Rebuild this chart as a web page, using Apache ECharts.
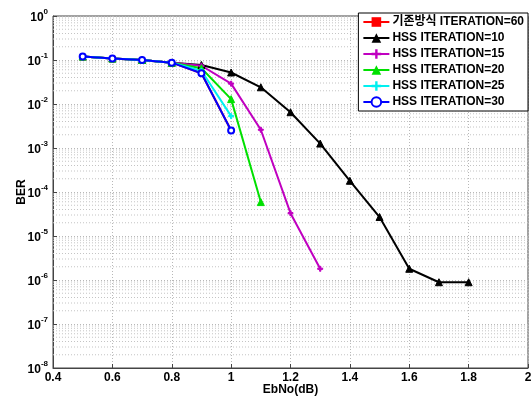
<!DOCTYPE html>
<html>
<head>
<meta charset="utf-8">
<script src="https://cdn.jsdelivr.net/npm/echarts@6/dist/echarts.min.js"></script>
<style>
  html, body { margin: 0; padding: 0; background: #fff; }
  #chart { width: 532px; height: 398px; }
</style>
</head>
<body>
<div id="chart"></div>
<script>
// EbNo (dB) per series
const ebnoBase = [0.5, 0.6, 0.7, 0.8, 0.9, 1.0];
const ebno10 = [0.5, 0.6, 0.7, 0.8, 0.9, 1.0, 1.1, 1.2, 1.3, 1.4, 1.5, 1.6, 1.7, 1.8];
const ebno15 = [0.5, 0.6, 0.7, 0.8, 0.9, 1.0, 1.1, 1.2, 1.3];
const ebno20 = [0.5, 0.6, 0.7, 0.8, 0.9, 1.0, 1.1];
const ebno25 = [0.5, 0.6, 0.7, 0.8, 0.9, 1.0];
const ebno30 = [0.5, 0.6, 0.7, 0.8, 0.9, 1.0];

// BER values
const berBase = [0.12, 0.108, 0.1, 0.087, 0.05, 0.0025];
const ber10 = [0.12, 0.108, 0.1, 0.087, 0.077, 0.052, 0.024, 0.0065, 0.00126, 1.8e-4, 2.7e-5, 1.8e-6, 8.9e-7, 8.9e-7];
const ber15 = [0.12, 0.108, 0.1, 0.087, 0.074, 0.029, 0.0026, 3.3e-5, 1.8e-6];
const ber20 = [0.12, 0.108, 0.1, 0.087, 0.065, 0.0129, 5.9e-5];
const ber25 = [0.12, 0.108, 0.1, 0.087, 0.057, 0.0053];
const ber30 = [0.12, 0.108, 0.1, 0.087, 0.05, 0.0025];

const seriesNames = [
  '기존방식 ITERATION=60',
  'HSS ITERATION=10',
  'HSS ITERATION=15',
  'HSS ITERATION=20',
  'HSS ITERATION=25',
  'HSS ITERATION=30',
];

const xTicks = [0.4, 0.6, 0.8, 1, 1.2, 1.4, 1.6, 1.8, 2];

const FONT = '"Liberation Sans", Arial, "Noto Sans CJK KR", sans-serif';
const plusPath = 'path://M3,0H5V3H8V5H5V8H3V5H0V3H3Z';

const pair = (xs, ys) => xs.map((x, i) => [x, ys[i]]);

// minor log grid lines at 2..9 x 10^k, drawn as flat background series
const minorSeries = [];
for (let e = -8; e < 0; e++) {
  for (let k = 2; k <= 9; k++) {
    const v = k * Math.pow(10, e);
    minorSeries.push({
      name: 'minor',
      type: 'line',
      data: [[xTicks[0], v], [xTicks[xTicks.length - 1], v]],
      symbol: 'none',
      silent: true,
      z: 1,
      lineStyle: { color: '#c4c4c4', type: [1, 2], width: 1 },
      emphasis: { disabled: true },
    });
  }
}

function lineSeries(name, data, color, symbol, size, extra) {
  return Object.assign({
    name: name,
    type: 'line',
    data: data,
    symbol: symbol,
    symbolSize: size,
    showAllSymbol: true,
    lineStyle: { color: color, width: 2 },
    itemStyle: { color: color, borderColor: color },
    emphasis: { disabled: true },
    z: 3,
  }, extra || {});
}

const chart = echarts.init(document.getElementById('chart'));
chart.setOption({
  animation: false,
  backgroundColor: '#fff',
  grid: {
    left: 53, right: 4, top: 16, bottom: 30,
    outerBoundsMode: 'none',
    containLabel: false,
    show: true, borderColor: '#444', borderWidth: 1,
  },
  legend: {
    data: seriesNames,
    orient: 'vertical',
    right: 4,
    top: 13,
    padding: [3, 4, 3, 4],
    itemGap: 4,
    itemWidth: 26,
    itemHeight: 12,
    backgroundColor: '#fff',
    borderColor: '#000',
    borderWidth: 1,
    borderRadius: 0,
    textStyle: { fontFamily: FONT, fontWeight: 'bold', fontSize: 12, color: '#000', padding: [0, 0, 0, -2] },
    z: 10,
  },
  xAxis: {
    type: 'value',
    min: 0.4,
    max: 2,
    interval: 0.2,
    name: 'EbNo(dB)',
    nameLocation: 'middle',
    nameGap: 16,
    nameMoveOverlap: false,
    nameTextStyle: { fontFamily: FONT, fontWeight: 'bold', fontSize: 12, color: '#000' },
    axisLine: { lineStyle: { color: '#444' } },
    axisTick: { inside: true, length: 4, lineStyle: { color: '#444' } },
    axisLabel: {
      fontFamily: FONT, fontWeight: 'bold', fontSize: 12, color: '#000', margin: 4,
      formatter: v => {
        const t = xTicks.find(x => Math.abs(x - v) < 1e-6);
        return t === undefined ? '' : String(t);
      },
    },
    splitLine: { lineStyle: { color: '#b8b8b8', type: [1, 2] } },
  },
  yAxis: {
    type: 'log',
    logBase: 10,
    min: 1e-8,
    max: 1,
    interval: 1,
    name: 'BER',
    nameLocation: 'middle',
    nameGap: 25,
    nameMoveOverlap: false,
    nameTextStyle: { fontFamily: FONT, fontWeight: 'bold', fontSize: 12, color: '#000' },
    axisLine: { show: true, lineStyle: { color: '#444' } },
    axisTick: { inside: true, length: 4, lineStyle: { color: '#444' } },
    axisLabel: {
      margin: 5,
      formatter: v => '{b|10}{s|' + Math.round(Math.log10(v)) + '}',
      rich: {
        b: { fontFamily: FONT, fontWeight: 'bold', fontSize: 12, color: '#000', padding: [4, 0, 0, 0] },
        s: { fontFamily: FONT, fontWeight: 'bold', fontSize: 8, color: '#000', verticalAlign: 'top', padding: [0, 0, 6, 0] },
      },
    },
    splitLine: { lineStyle: { color: '#b8b8b8', type: [1, 2] } },
  },
  series: minorSeries.concat([
    lineSeries(seriesNames[0], pair(ebnoBase, berBase), '#ff0000', 'rect', 5),
    lineSeries(seriesNames[1], pair(ebno10, ber10), '#000000', 'triangle', 7),
    lineSeries(seriesNames[2], pair(ebno15, ber15), '#c000c0', plusPath, 5),
    lineSeries(seriesNames[3], pair(ebno20, ber20), '#00e000', 'triangle', 7),
    lineSeries(seriesNames[4], pair(ebno25, ber25), '#00f0f0', plusPath, 5),
    lineSeries(seriesNames[5], pair(ebno30, ber30), '#0000ff', 'emptyCircle', 6,
      { itemStyle: { color: '#0000ff', borderColor: '#0000ff', borderWidth: 2 } }),
  ]),
});
</script>
</body>
</html>
